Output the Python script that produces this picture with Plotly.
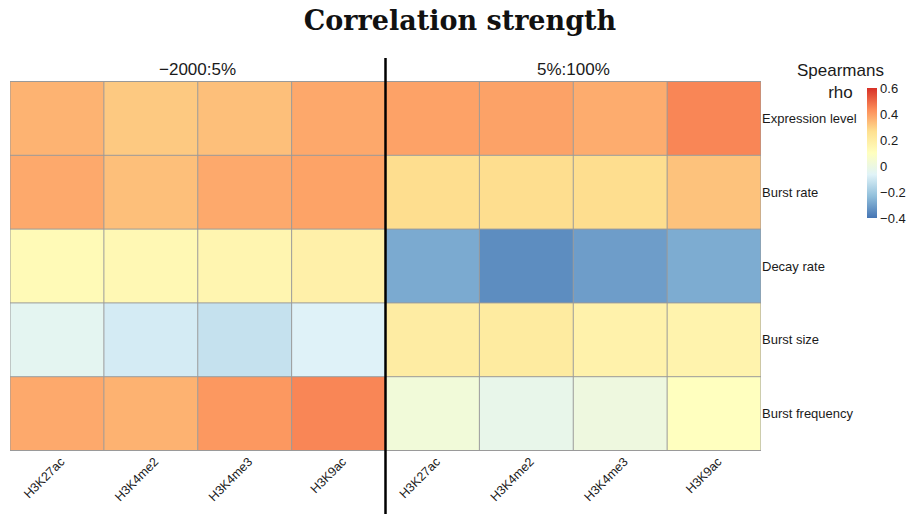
import plotly.graph_objects as go

# Histone marks (columns) for each region, and transcriptional features (rows)
marks = ["H3K27ac", "H3K4me2", "H3K4me3", "H3K9ac"]
regions = ["\u22122000:5%", "5%:100%"]
features = ["Expression level", "Burst rate", "Decay rate", "Burst size", "Burst frequency"]

# Spearman's rho, rows follow `features`, columns follow `marks`
rho_upstream = [
    [0.357, 0.313, 0.333, 0.379],
    [0.377, 0.333, 0.377, 0.390],
    [0.128, 0.139, 0.153, 0.178],
    [-0.045, -0.092, -0.124, -0.069],
    [0.377, 0.360, 0.411, 0.445],
]
rho_body = [
    [0.391, 0.392, 0.371, 0.445],
    [0.270, 0.270, 0.270, 0.327],
    [-0.281, -0.347, -0.310, -0.277],
    [0.200, 0.210, 0.170, 0.165],
    [0.025, -0.025, 0.007, 0.100],
]

# colorbar ticks
cbar_ticks = [-0.4, -0.2, 0, 0.2, 0.4, 0.6]
zmin, zmax = -0.4, 0.6

z = [a + b for a, b in zip(rho_upstream, rho_body)]
n_cols = len(marks) * len(regions)
n_rows = len(features)
xs = list(range(n_cols))
ys = list(range(n_rows))
col_labels = marks * len(regions)

# reversed RdYlBu (7 classes) ramp
palette = ["#4575B4", "#91BFDB", "#E0F3F8", "#FFFFBF", "#FEE090", "#FC8D59", "#D73027"]
colorscale = [[i / (len(palette) - 1), c] for i, c in enumerate(palette)]

# plot area in pixels
W, H = 909, 514
L, R, T, B = 10, 148, 81, 61
plot_h = H - T - B

fig = go.Figure(
    go.Heatmap(
        z=z, x=xs, y=ys,
        zmin=zmin, zmax=zmax,
        colorscale=colorscale,
        hoverinfo="skip",
        colorbar=dict(
            xref="container", x=867 / W, xanchor="left",
            yref="paper", y=1 - (88 - T) / plot_h, yanchor="top",
            lenmode="pixels", len=130,
            thicknessmode="pixels", thickness=10,
            outlinewidth=0,
            xpad=0, ypad=0,
            tickvals=cbar_ticks,
            ticks="",
            tickfont=dict(family="Liberation Sans, Arial", size=13, color="#1a1a1a"),
        ),
    )
)

# cell borders
grid = dict(color="#9a9a9a", width=1)
for i in range(n_cols + 1):
    fig.add_shape(type="line", xref="x", yref="y", x0=i - 0.5, x1=i - 0.5,
                  y0=-0.5, y1=n_rows - 0.5, line=grid)
for j in range(n_rows + 1):
    fig.add_shape(type="line", xref="x", yref="y", x0=-0.5, x1=n_cols - 0.5,
                  y0=j - 0.5, y1=j - 0.5, line=grid)

# divider between the two regions
split = len(marks) - 0.5
fig.add_shape(type="line", xref="x", yref="paper", x0=split, x1=split,
              y0=-0.2, y1=1 + (T - 58) / plot_h, line=dict(color="black", width=2.5))

# region headers
for k, name in enumerate(regions):
    fig.add_annotation(text=name, xref="x", yref="paper",
                       x=k * len(marks) + (len(marks) - 1) / 2, y=1 + (T - 69) / plot_h,
                       yanchor="middle", showarrow=False,
                       font=dict(family="Liberation Sans, Arial", size=17, color="#1a1a1a"))

# legend title
fig.add_annotation(text="Spearmans<br>rho", xref="paper", yref="paper",
                   x=(840 - L) / (W - L - R), y=1 + (T - 81) / plot_h,
                   xanchor="center", yanchor="middle", showarrow=False,
                   font=dict(family="Liberation Sans, Arial", size=17, color="#1a1a1a"))

fig.update_layout(
    width=W, height=H,
    margin=dict(l=L, r=R, t=T, b=B),
    paper_bgcolor="white", plot_bgcolor="white",
    title=dict(text="<b>Correlation strength</b>", x=460 / W, xanchor="center",
               y=1 - 21 / H, yanchor="middle",
               font=dict(family="DejaVu Serif", size=27, color="#111111")),
    xaxis=dict(tickvals=xs, ticktext=col_labels, tickangle=-45, showgrid=False,
               zeroline=False, showline=False, ticks="", range=[-0.5, n_cols - 0.5],
               ticklabelshift=4,
               tickfont=dict(family="Liberation Sans, Arial", size=12.5, color="#1a1a1a")),
    yaxis=dict(tickvals=ys, ticktext=features, side="right", autorange="reversed",
               showgrid=False, zeroline=False, showline=False, ticks="",
               tickfont=dict(family="Liberation Sans, Arial", size=13, color="#1a1a1a")),
)

fig.write_html("out.html")
